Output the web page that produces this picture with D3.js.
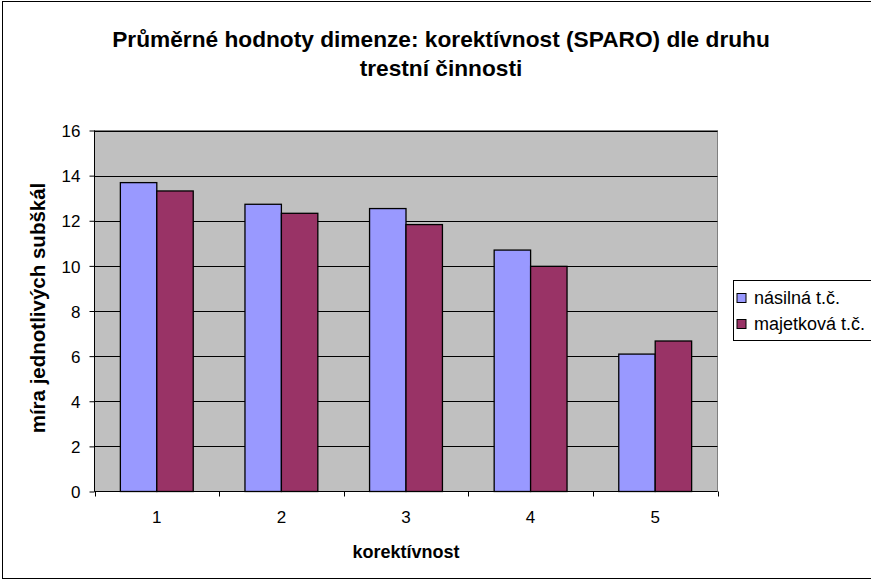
<!DOCTYPE html>
<html>
<head>
<meta charset="utf-8">
<script src="https://cdn.jsdelivr.net/npm/d3@7"></script>
<style>
  body { margin: 0; background: #fff; }
  svg { display: block; font-family: "Liberation Sans", Arial, sans-serif; }
</style>
</head>
<body>
<svg id="chart"></svg>
<script>
// *** Data ***
var categories = ["1", "2", "3", "4", "5"];
var seriesNames = ["násilná t.č.", "majetková t.č."];
var nasilna = [13.69, 12.73, 12.54, 10.70, 6.09];
var majetkova = [13.32, 12.33, 11.83, 9.98, 6.67];
var yTicks = [0, 2, 4, 6, 8, 10, 12, 14, 16];
var colors = ["#9999ff", "#993366"];

var svgWidth = 871, svgHeight = 581;
var plot = { left: 94.5, top: 130.5, right: 717.5, bottom: 491.5 };
var font = "Liberation Sans, Arial, sans-serif";

var svg = d3.select("#chart")
    .attr("width", svgWidth)
    .attr("height", svgHeight);

// outer chart border
svg.append("rect")
    .attr("x", 2.5).attr("y", 1.5)
    .attr("width", 871).attr("height", 577)
    .attr("fill", "#fff")
    .attr("stroke", "#000");

// *** Scales ***
var x0 = d3.scaleBand()
    .domain(categories)
    .range([plot.left, plot.right])
    .paddingInner(0)
    .paddingOuter(0);

var x1 = d3.scaleBand()
    .domain([0, 1])
    .range([0, x0.bandwidth()])
    .paddingInner(0)
    .paddingOuter(0.71);

var y = d3.scaleLinear()
    .domain([0, 16])
    .range([plot.bottom, plot.top]);

// plot background
svg.append("rect")
    .attr("x", plot.left).attr("y", plot.top)
    .attr("width", plot.right - plot.left)
    .attr("height", plot.bottom - plot.top)
    .attr("fill", "#c0c0c0")
    .attr("stroke", "#808080");

// gridlines
svg.append("g")
    .selectAll("line")
    .data(yTicks.filter(function (d) { return d > 0; }))
    .enter()
    .append("line")
    .attr("x1", plot.left).attr("x2", plot.right)
    .attr("y1", function (d) { return Math.round(y(d)) + 0.5; })
    .attr("y2", function (d) { return Math.round(y(d)) + 0.5; })
    .attr("stroke", "#000");

// *** Bars ***
var rows = categories.map(function (c, i) {
    return { cat: c, values: [nasilna[i], majetkova[i]] };
});

var groups = svg.append("g")
    .selectAll("g")
    .data(rows)
    .enter()
    .append("g")
    .attr("transform", function (d) { return "translate(" + x0(d.cat) + ",0)"; });

groups.selectAll("rect")
    .data(function (d) { return d.values; })
    .enter()
    .append("rect")
    .attr("x", function (d, i) { return x1(i); })
    .attr("width", x1.bandwidth())
    .attr("y", function (d) { return y(d); })
    .attr("height", function (d) { return y(0) - y(d); })
    .attr("fill", function (d, i) { return colors[i]; })
    .attr("stroke", "#000")
    .attr("stroke-width", 1.3);

// *** Axes ***
var yAxis = d3.axisLeft(y)
    .tickValues(yTicks)
    .tickSize(5)
    .tickPadding(9);

var yG = svg.append("g")
    .attr("transform", "translate(" + plot.left + ",0)")
    .call(yAxis);
yG.select(".domain").attr("stroke", "#000").attr("d", "M0," + plot.top + "V" + plot.bottom);
yG.selectAll("text").attr("font-size", 17).attr("fill", "#000")
    .attr("font-family", font).attr("dy", "0.36em");

var xAxis = d3.axisBottom(x0).tickSize(0).tickPadding(19);
var xG = svg.append("g")
    .attr("transform", "translate(0," + plot.bottom + ")")
    .call(xAxis);
xG.select(".domain").attr("stroke", "#000").attr("d", "M" + plot.left + ",0H" + plot.right);
xG.selectAll("text").attr("font-size", 17).attr("fill", "#000")
    .attr("font-family", font);

// category boundary ticks
var bounds = categories.map(function (c) { return x0(c); }).concat([plot.right]);
xG.selectAll(".bound")
    .data(bounds)
    .enter()
    .append("line")
    .attr("class", "bound")
    .attr("x1", function (d) { return Math.round(d) + 0.5; })
    .attr("x2", function (d) { return Math.round(d) + 0.5; })
    .attr("y1", 0).attr("y2", 5)
    .attr("stroke", "#000");

// *** Titles ***
var title = svg.append("text")
    .attr("text-anchor", "middle")
    .attr("font-size", 22.7)
    .attr("font-weight", "bold");
title.append("tspan").attr("x", 441).attr("y", 47).text("Průměrné hodnoty dimenze: korektívnost (SPARO) dle druhu");
title.append("tspan").attr("x", 441).attr("y", 76).text("trestní činnosti");

svg.append("text")
    .attr("x", 406).attr("y", 558)
    .attr("text-anchor", "middle")
    .attr("font-size", 18)
    .attr("font-weight", "bold")
    .text("korektívnost");

svg.append("text")
    .attr("transform", "translate(45," + 308 + ") rotate(-90)")
    .attr("text-anchor", "middle")
    .attr("font-size", 20.5)
    .attr("font-weight", "bold")
    .text("míra jednotlivých subškál");

// *** Legend ***
var legend = svg.append("g").attr("transform", "translate(733.5,280.5)");
legend.append("rect")
    .attr("width", 160).attr("height", 60)
    .attr("fill", "#fff").attr("stroke", "#000");

var items = legend.selectAll(".item")
    .data(seriesNames)
    .enter()
    .append("g")
    .attr("class", "item")
    .attr("transform", function (d, i) { return "translate(3.5," + (13 + i * 26) + ")"; });

items.append("rect")
    .attr("width", 9).attr("height", 9)
    .attr("fill", function (d, i) { return colors[i]; })
    .attr("stroke", "#000");

items.append("text")
    .attr("x", 17).attr("y", 10)
    .attr("font-size", 18)
    .text(function (d) { return d; });
</script>
</body>
</html>
